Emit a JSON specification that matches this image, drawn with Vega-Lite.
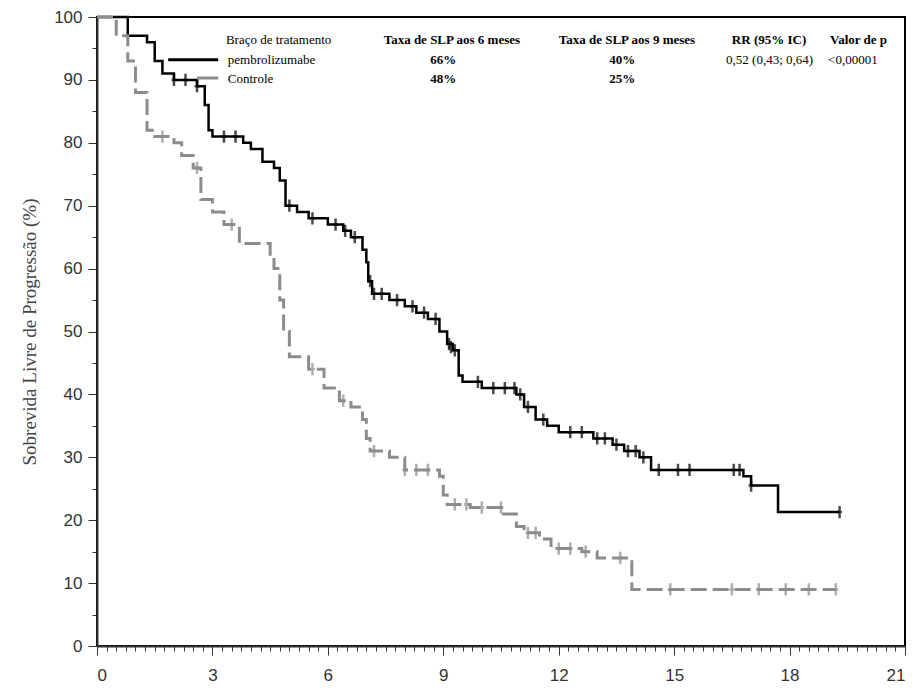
{
  "$schema": "https://vega.github.io/schema/vega-lite/v6.json",
  "width": 808,
  "height": 629,
  "autosize": "none",
  "padding": {"left": 97, "top": 17, "right": 12, "bottom": 47},
  "background": "white",
  "config": {"view": {"stroke": "black", "strokeWidth": 2}},
  "datasets": {
    "curves": [
      {"arm": "pembrolizumabe", "t": 0, "s": 100}, {"arm": "pembrolizumabe", "t": 0.8, "s": 97}, {"arm": "pembrolizumabe", "t": 1.3, "s": 96},
      {"arm": "pembrolizumabe", "t": 1.5, "s": 93}, {"arm": "pembrolizumabe", "t": 1.7, "s": 91}, {"arm": "pembrolizumabe", "t": 2.0, "s": 90},
      {"arm": "pembrolizumabe", "t": 2.6, "s": 89}, {"arm": "pembrolizumabe", "t": 2.8, "s": 86}, {"arm": "pembrolizumabe", "t": 2.9, "s": 82},
      {"arm": "pembrolizumabe", "t": 3.0, "s": 81}, {"arm": "pembrolizumabe", "t": 3.8, "s": 80}, {"arm": "pembrolizumabe", "t": 4.0, "s": 79},
      {"arm": "pembrolizumabe", "t": 4.3, "s": 77}, {"arm": "pembrolizumabe", "t": 4.6, "s": 76}, {"arm": "pembrolizumabe", "t": 4.75, "s": 74},
      {"arm": "pembrolizumabe", "t": 4.9, "s": 70}, {"arm": "pembrolizumabe", "t": 5.2, "s": 69}, {"arm": "pembrolizumabe", "t": 5.5, "s": 68},
      {"arm": "pembrolizumabe", "t": 6.0, "s": 67}, {"arm": "pembrolizumabe", "t": 6.4, "s": 66}, {"arm": "pembrolizumabe", "t": 6.6, "s": 65},
      {"arm": "pembrolizumabe", "t": 6.9, "s": 63}, {"arm": "pembrolizumabe", "t": 7.0, "s": 61}, {"arm": "pembrolizumabe", "t": 7.05, "s": 58},
      {"arm": "pembrolizumabe", "t": 7.15, "s": 56}, {"arm": "pembrolizumabe", "t": 7.6, "s": 55}, {"arm": "pembrolizumabe", "t": 8.0, "s": 54},
      {"arm": "pembrolizumabe", "t": 8.3, "s": 53}, {"arm": "pembrolizumabe", "t": 8.6, "s": 52}, {"arm": "pembrolizumabe", "t": 8.9, "s": 50},
      {"arm": "pembrolizumabe", "t": 9.1, "s": 48}, {"arm": "pembrolizumabe", "t": 9.25, "s": 47}, {"arm": "pembrolizumabe", "t": 9.4, "s": 43},
      {"arm": "pembrolizumabe", "t": 9.5, "s": 42}, {"arm": "pembrolizumabe", "t": 10.0, "s": 41}, {"arm": "pembrolizumabe", "t": 10.9, "s": 40},
      {"arm": "pembrolizumabe", "t": 11.1, "s": 38}, {"arm": "pembrolizumabe", "t": 11.4, "s": 36}, {"arm": "pembrolizumabe", "t": 11.7, "s": 35},
      {"arm": "pembrolizumabe", "t": 12.0, "s": 34}, {"arm": "pembrolizumabe", "t": 12.9, "s": 33}, {"arm": "pembrolizumabe", "t": 13.4, "s": 32},
      {"arm": "pembrolizumabe", "t": 13.7, "s": 31}, {"arm": "pembrolizumabe", "t": 14.1, "s": 30}, {"arm": "pembrolizumabe", "t": 14.4, "s": 28},
      {"arm": "pembrolizumabe", "t": 16.8, "s": 27}, {"arm": "pembrolizumabe", "t": 17.0, "s": 25.5}, {"arm": "pembrolizumabe", "t": 17.7, "s": 21.3},
      {"arm": "pembrolizumabe", "t": 19.3, "s": 21.3},
      {"arm": "Controle", "t": 0, "s": 100}, {"arm": "Controle", "t": 0.5, "s": 97}, {"arm": "Controle", "t": 0.8, "s": 93},
      {"arm": "Controle", "t": 1.0, "s": 88}, {"arm": "Controle", "t": 1.3, "s": 82}, {"arm": "Controle", "t": 1.5, "s": 81},
      {"arm": "Controle", "t": 2.0, "s": 80}, {"arm": "Controle", "t": 2.2, "s": 78}, {"arm": "Controle", "t": 2.5, "s": 76},
      {"arm": "Controle", "t": 2.7, "s": 71}, {"arm": "Controle", "t": 3.0, "s": 69}, {"arm": "Controle", "t": 3.3, "s": 67},
      {"arm": "Controle", "t": 3.7, "s": 64}, {"arm": "Controle", "t": 4.5, "s": 62}, {"arm": "Controle", "t": 4.6, "s": 60},
      {"arm": "Controle", "t": 4.75, "s": 55}, {"arm": "Controle", "t": 4.85, "s": 50}, {"arm": "Controle", "t": 5.0, "s": 46},
      {"arm": "Controle", "t": 5.5, "s": 44}, {"arm": "Controle", "t": 5.9, "s": 41}, {"arm": "Controle", "t": 6.3, "s": 39},
      {"arm": "Controle", "t": 6.6, "s": 38}, {"arm": "Controle", "t": 6.9, "s": 36}, {"arm": "Controle", "t": 7.0, "s": 33},
      {"arm": "Controle", "t": 7.1, "s": 31}, {"arm": "Controle", "t": 7.6, "s": 30}, {"arm": "Controle", "t": 8.0, "s": 28},
      {"arm": "Controle", "t": 8.9, "s": 27}, {"arm": "Controle", "t": 9.0, "s": 24}, {"arm": "Controle", "t": 9.1, "s": 22.5},
      {"arm": "Controle", "t": 9.7, "s": 22}, {"arm": "Controle", "t": 10.5, "s": 21}, {"arm": "Controle", "t": 10.9, "s": 19},
      {"arm": "Controle", "t": 11.1, "s": 18}, {"arm": "Controle", "t": 11.5, "s": 17}, {"arm": "Controle", "t": 11.8, "s": 15.5},
      {"arm": "Controle", "t": 12.6, "s": 15}, {"arm": "Controle", "t": 13.0, "s": 14}, {"arm": "Controle", "t": 13.9, "s": 9},
      {"arm": "Controle", "t": 19.2, "s": 9}
    ],
    "censor": [
      {"arm": "pembrolizumabe", "t": 2.0, "s": 90}, {"arm": "pembrolizumabe", "t": 2.3, "s": 90}, {"arm": "pembrolizumabe", "t": 2.6, "s": 89},
      {"arm": "pembrolizumabe", "t": 3.3, "s": 81}, {"arm": "pembrolizumabe", "t": 3.6, "s": 81}, {"arm": "pembrolizumabe", "t": 5.0, "s": 70},
      {"arm": "pembrolizumabe", "t": 5.6, "s": 68}, {"arm": "pembrolizumabe", "t": 6.2, "s": 67}, {"arm": "pembrolizumabe", "t": 6.45, "s": 66},
      {"arm": "pembrolizumabe", "t": 6.7, "s": 65}, {"arm": "pembrolizumabe", "t": 7.1, "s": 58}, {"arm": "pembrolizumabe", "t": 7.2, "s": 56},
      {"arm": "pembrolizumabe", "t": 7.4, "s": 56}, {"arm": "pembrolizumabe", "t": 7.8, "s": 55}, {"arm": "pembrolizumabe", "t": 8.2, "s": 54},
      {"arm": "pembrolizumabe", "t": 8.5, "s": 53}, {"arm": "pembrolizumabe", "t": 8.8, "s": 52}, {"arm": "pembrolizumabe", "t": 9.15, "s": 48},
      {"arm": "pembrolizumabe", "t": 9.2, "s": 47.5}, {"arm": "pembrolizumabe", "t": 9.3, "s": 47}, {"arm": "pembrolizumabe", "t": 9.9, "s": 42},
      {"arm": "pembrolizumabe", "t": 10.3, "s": 41}, {"arm": "pembrolizumabe", "t": 10.6, "s": 41}, {"arm": "pembrolizumabe", "t": 10.85, "s": 41},
      {"arm": "pembrolizumabe", "t": 11.0, "s": 40}, {"arm": "pembrolizumabe", "t": 11.2, "s": 38}, {"arm": "pembrolizumabe", "t": 11.6, "s": 36},
      {"arm": "pembrolizumabe", "t": 12.3, "s": 34}, {"arm": "pembrolizumabe", "t": 12.6, "s": 34}, {"arm": "pembrolizumabe", "t": 13.0, "s": 33},
      {"arm": "pembrolizumabe", "t": 13.2, "s": 33}, {"arm": "pembrolizumabe", "t": 13.5, "s": 32}, {"arm": "pembrolizumabe", "t": 13.8, "s": 31},
      {"arm": "pembrolizumabe", "t": 14.0, "s": 31}, {"arm": "pembrolizumabe", "t": 14.2, "s": 30}, {"arm": "pembrolizumabe", "t": 14.6, "s": 28},
      {"arm": "pembrolizumabe", "t": 15.1, "s": 28}, {"arm": "pembrolizumabe", "t": 15.4, "s": 28}, {"arm": "pembrolizumabe", "t": 16.55, "s": 28},
      {"arm": "pembrolizumabe", "t": 16.7, "s": 28}, {"arm": "pembrolizumabe", "t": 17.0, "s": 25.5}, {"arm": "pembrolizumabe", "t": 19.3, "s": 21.3},
      {"arm": "Controle", "t": 1.7, "s": 81}, {"arm": "Controle", "t": 2.6, "s": 76}, {"arm": "Controle", "t": 3.5, "s": 67},
      {"arm": "Controle", "t": 5.6, "s": 44}, {"arm": "Controle", "t": 6.4, "s": 39}, {"arm": "Controle", "t": 7.2, "s": 31},
      {"arm": "Controle", "t": 8.0, "s": 28}, {"arm": "Controle", "t": 8.3, "s": 28}, {"arm": "Controle", "t": 8.6, "s": 28},
      {"arm": "Controle", "t": 9.3, "s": 22.5}, {"arm": "Controle", "t": 9.6, "s": 22.5}, {"arm": "Controle", "t": 10.0, "s": 22},
      {"arm": "Controle", "t": 10.5, "s": 22}, {"arm": "Controle", "t": 11.2, "s": 18}, {"arm": "Controle", "t": 11.4, "s": 18},
      {"arm": "Controle", "t": 12.0, "s": 15.5}, {"arm": "Controle", "t": 12.3, "s": 15.5}, {"arm": "Controle", "t": 12.7, "s": 15},
      {"arm": "Controle", "t": 13.6, "s": 14}, {"arm": "Controle", "t": 14.9, "s": 9}, {"arm": "Controle", "t": 16.5, "s": 9},
      {"arm": "Controle", "t": 17.2, "s": 9}, {"arm": "Controle", "t": 17.9, "s": 9}, {"arm": "Controle", "t": 18.5, "s": 9},
      {"arm": "Controle", "t": 19.2, "s": 9}
    ],
    "plain": [
      {"t": 3.35, "s": 96.3, "txt": "Braço de tratamento"},
      {"t": 3.4, "s": 93.2, "txt": "pembrolizumabe"},
      {"t": 16.35, "s": 93.2, "txt": "0,52 (0,43; 0,64)"},
      {"t": 19.0, "s": 93.2, "txt": "<0,00001"},
      {"t": 3.4, "s": 90.2, "txt": "Controle"}
    ],
    "heads": [
      {"t": 7.45, "s": 96.3, "txt": "Taxa de SLP aos 6 meses"},
      {"t": 12.0, "s": 96.3, "txt": "Taxa de SLP aos 9 meses"},
      {"t": 16.5, "s": 96.3, "txt": "RR (95% IC)"},
      {"t": 19.05, "s": 96.3, "txt": "Valor de p"}
    ],
    "rates": [
      {"t": 9.0, "s": 93.2, "txt": "66%"},
      {"t": 13.65, "s": 93.2, "txt": "40%"},
      {"t": 9.0, "s": 90.2, "txt": "48%"},
      {"t": 13.65, "s": 90.2, "txt": "25%"}
    ],
    "keys": [
      {"arm": "pembrolizumabe", "t": 1.85, "t2": 3.15, "s": 93.2},
      {"arm": "Controle", "t": 2.6, "t2": 3.15, "s": 90.3}
    ]
  },
  "resolve": {"axis": {"x": "independent", "y": "independent"}},
  "layer": [
    {
      "data": {"values": [{"d": 0}]},
      "mark": {"type": "rule", "opacity": 0},
      "encoding": {
        "x": {"datum": 0, "type": "quantitative", "scale": {"domain": [0, 21], "nice": false},
          "axis": {"orient": "bottom", "values": [0,0.25,0.5,0.75,1,1.25,1.5,1.75,2,2.25,2.5,2.75,3,3.25,3.5,3.75,4,4.25,4.5,4.75,5,5.25,5.5,5.75,6,6.25,6.5,6.75,7,7.25,7.5,7.75,8,8.25,8.5,8.75,9,9.25,9.5,9.75,10,10.25,10.5,10.75,11,11.25,11.5,11.75,12,12.25,12.5,12.75,13,13.25,13.5,13.75,14,14.25,14.5,14.75,15,15.25,15.5,15.75,16,16.25,16.5,16.75,17,17.25,17.5,17.75,18,18.25,18.5,18.75,19,19.25,19.5,19.75,20,20.25,20.5,20.75,21],
            "labels": false, "domain": false, "grid": false, "tickSize": 5, "tickColor": "#333", "title": null}},
        "y": {"datum": 0, "type": "quantitative", "scale": {"domain": [0, 100], "nice": false},
          "axis": {"orient": "left", "values": [5,15,25,35,45,55,65,75,85,95], "labels": false, "domain": false, "grid": false, "tickSize": 5, "tickColor": "#333", "title": null}}
      }
    },
    {
      "data": {"name": "curves"},
      "mark": {"type": "line", "interpolate": "step-after"},
      "encoding": {
        "x": {"field": "t", "type": "quantitative", "scale": {"domain": [0, 21], "nice": false},
          "axis": {"orient": "bottom", "values": [0,3,6,9,12,15,18,21], "title": null, "grid": false, "tickSize": 9, "tickColor": "#333", "domainColor": "#333", "domainWidth": 2,
            "labelFont": "Liberation Sans", "labelFontSize": 17, "labelColor": "#333", "labelPadding": 12}},
        "y": {"field": "s", "type": "quantitative", "scale": {"domain": [0, 100], "nice": false},
          "axis": {"orient": "left", "values": [0,10,20,30,40,50,60,70,80,90,100], "grid": false, "tickSize": 9, "tickColor": "#333", "domainColor": "#333", "domainWidth": 2,
            "labelFont": "Liberation Sans", "labelFontSize": 17, "labelColor": "#333", "labelPadding": 6,
            "title": "Sobrevida Livre de Progressão (%)", "titleFont": "Liberation Serif", "titleFontSize": 19, "titleFontWeight": "normal", "titleColor": "#444", "titlePadding": 14}},
        "color": {"field": "arm", "type": "nominal", "scale": {"domain": ["pembrolizumabe", "Controle"], "range": ["black", "#8c8c8c"]}, "legend": null},
        "strokeDash": {"field": "arm", "type": "nominal", "scale": {"domain": ["pembrolizumabe", "Controle"], "range": [[1, 0], [16, 6]]}, "legend": null},
        "strokeWidth": {"field": "arm", "type": "nominal", "scale": {"domain": ["pembrolizumabe", "Controle"], "range": [2.5, 3]}, "legend": null}
      }
    },
    {
      "data": {"name": "censor"},
      "mark": {"type": "point", "shape": "M0,-1L0,1M-0.4,0L0.4,0", "filled": false, "size": 150, "strokeWidth": 2.5},
      "encoding": {
        "x": {"field": "t", "type": "quantitative", "axis": null},
        "y": {"field": "s", "type": "quantitative", "axis": null},
        "color": {"field": "arm", "type": "nominal", "legend": null}
      }
    },
    {
      "data": {"name": "keys"},
      "mark": {"type": "rule", "strokeWidth": 3},
      "encoding": {
        "x": {"field": "t", "type": "quantitative", "axis": null},
        "x2": {"field": "t2"},
        "y": {"field": "s", "type": "quantitative", "axis": null},
        "color": {"field": "arm", "type": "nominal", "legend": null}
      }
    },
    {
      "data": {"name": "plain"},
      "mark": {"type": "text", "font": "Liberation Serif", "fontSize": 13, "color": "black", "baseline": "middle", "align": "left"},
      "encoding": {
        "x": {"field": "t", "type": "quantitative", "axis": null},
        "y": {"field": "s", "type": "quantitative", "axis": null},
        "text": {"field": "txt"}
      }
    },
    {
      "data": {"name": "heads"},
      "mark": {"type": "text", "font": "Liberation Serif", "fontSize": 13, "fontWeight": "bold", "color": "black", "baseline": "middle", "align": "left"},
      "encoding": {
        "x": {"field": "t", "type": "quantitative", "axis": null},
        "y": {"field": "s", "type": "quantitative", "axis": null},
        "text": {"field": "txt"}
      }
    },
    {
      "data": {"name": "rates"},
      "mark": {"type": "text", "font": "Liberation Serif", "fontSize": 13, "fontWeight": "bold", "color": "black", "baseline": "middle", "align": "center"},
      "encoding": {
        "x": {"field": "t", "type": "quantitative", "axis": null},
        "y": {"field": "s", "type": "quantitative", "axis": null},
        "text": {"field": "txt"}
      }
    }
  ]
}
